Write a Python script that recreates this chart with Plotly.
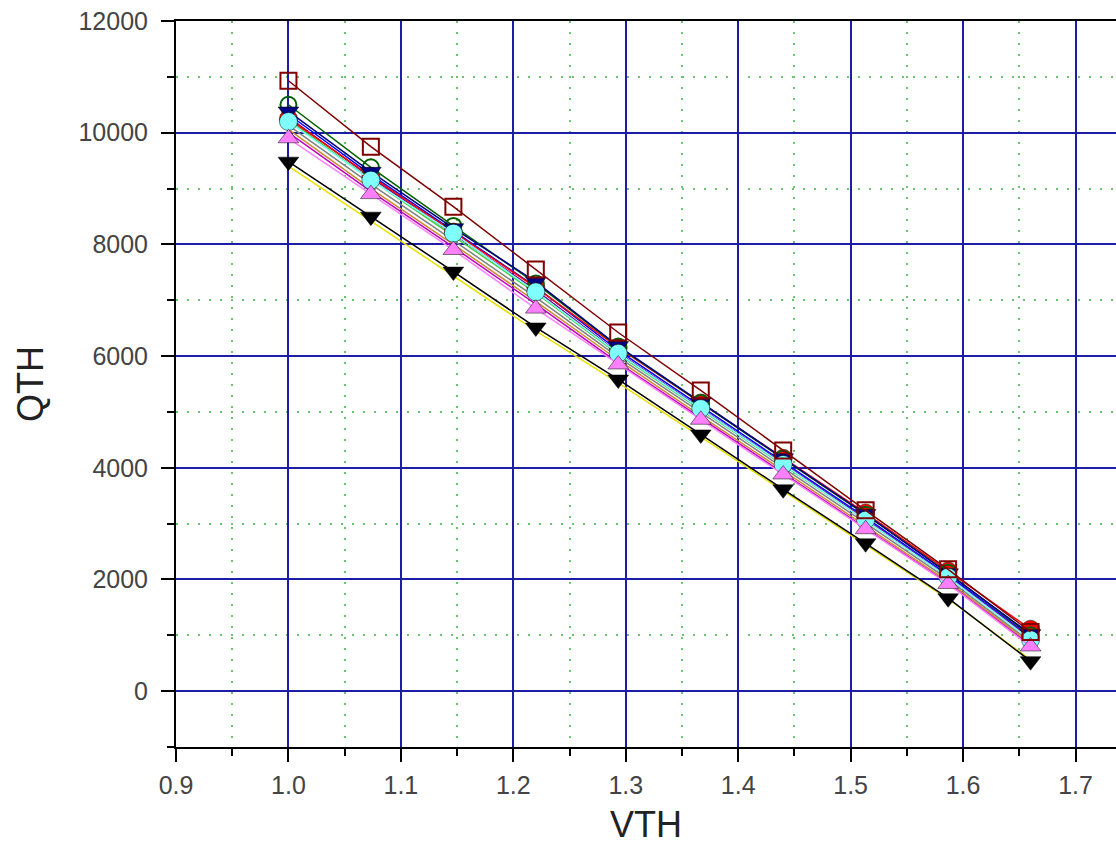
import plotly.graph_objects as go

# VTH sample points (shared by every curve)
vth = [1.0, 1.0733, 1.1467, 1.22, 1.2933, 1.3667, 1.44, 1.5133, 1.5867, 1.66]

# QTH curves, one list per run
q_brown = [10930, 9750, 8676, 7549, 6422, 5385, 4311, 3238, 2182, 1060]
q_red = [10250, 9220, 8220, 7230, 6150, 5160, 4170, 3190, 2150, 1109]
q_dkgreen = [10500, 9380, 8330, 7300, 6170, 5160, 4160, 3160, 2120, 1000]
q_navy = [10380, 9300, 8290, 7330, 6180, 5170, 4170, 3170, 2110, 1020]
q_blue = [10330, 9250, 8240, 7240, 6100, 5100, 4110, 3110, 2080, 980]
q_purple = [10280, 9200, 8190, 7180, 6060, 5070, 4080, 3080, 2050, 950]
q_green = [10230, 9160, 8150, 7130, 6030, 5040, 4060, 3060, 2040, 930]
q_cyan = [10200, 9150, 8200, 7150, 6050, 5060, 4060, 3060, 2040, 920]
q_gray = [10130, 9080, 8070, 7050, 5980, 4990, 4010, 3010, 2000, 880]
q_orange = [10060, 9000, 8000, 6980, 5930, 4930, 3950, 2960, 1960, 850]
q_magenta = [10000, 8950, 7950, 6930, 5880, 4890, 3910, 2920, 1930, 820]
q_pink = [9900, 8900, 7900, 6850, 5850, 4860, 3880, 2900, 1920, 800]
q_black = [9481, 8497, 7513, 6512, 5581, 4597, 3614, 2648, 1664, 537]
q_yellow = [9400, 8420, 7440, 6450, 5520, 4550, 3580, 2620, 1650, 560]

# (name, values, colour, marker symbol, filled marker?)
series = [
    ("run 14", q_yellow, "#e8e000", None, False),
    ("run 13", q_gray, "#808080", None, False),
    ("run 12", q_orange, "#d08a30", None, False),
    ("run 11", q_magenta, "#c000c0", None, False),
    ("run 10", q_green, "#40d040", None, False),
    ("run 9", q_purple, "#800080", None, False),
    ("run 8", q_blue, "#0000ff", None, False),
    ("run 7", q_red, "#ff0000", "circle", True),
    ("run 6", q_dkgreen, "#006000", "circle-open", False),
    ("run 5", q_navy, "#000080", "triangle-down", True),
    ("run 4", q_cyan, "#80ffff", "circle", True),
    ("run 3", q_pink, "#ff80ff", "triangle-up", True),
    ("run 2", q_black, "#000000", "triangle-down", True),
    ("run 1", q_brown, "#800000", "square-open", False),
]

fig = go.Figure()
for name, q, color, symbol, filled in series:
    if filled:
        marker = dict(size=18, color=color, line=dict(color="black", width=0.5))
    else:
        marker = dict(size=16, color=color, line=dict(color=color, width=2))
    if symbol is None:
        mode = "lines"
    else:
        mode = "lines+markers"
        marker["symbol"] = symbol
    fig.add_trace(go.Scatter(
        x=vth, y=q, name=name, mode=mode,
        line=dict(color=color, width=1.5),
        marker=marker,
    ))

tick_font = dict(family="Liberation Sans, Arial, sans-serif", size=25, color="#444444")
title_font = dict(family="Liberation Sans, Arial, sans-serif", size=36, color="#222222")
minor_grid = dict(showgrid=True, gridcolor="#6cc46c", griddash="2px,9px", gridwidth=1.5)

fig.update_layout(
    width=1116, height=857,
    margin=dict(l=176, r=0, t=21, b=110),
    paper_bgcolor="white", plot_bgcolor="white",
    showlegend=False,
    xaxis=dict(
        range=[0.9, 1.736], dtick=0.1, tick0=0.9, tickformat=".1f",
        showline=True, linecolor="black", linewidth=2, mirror=True,
        ticks="outside", ticklen=13, tickwidth=2, tickcolor="black",
        ticklabelstandoff=2, automargin=False,
        showgrid=True, gridcolor="#1c1ca8", gridwidth=2,
        zeroline=False, tickfont=tick_font,
        minor=dict(dtick=0.05, tick0=0.9, ticks="outside", ticklen=7, tickwidth=2, tickcolor="black",
                   **minor_grid),
        title=dict(text="VTH", font=title_font, standoff=14),
    ),
    yaxis=dict(
        range=[-1000, 12000], dtick=2000, tick0=0, tickformat="d",
        showline=True, linecolor="black", linewidth=2, mirror=False,
        ticks="outside", ticklen=13, tickwidth=2, tickcolor="black",
        ticklabelstandoff=8, automargin=False,
        showgrid=True, gridcolor="#1c1ca8", gridwidth=2,
        zeroline=False, tickfont=tick_font,
        minor=dict(dtick=1000, tick0=0, ticks="outside", ticklen=7, tickwidth=2, tickcolor="black",
                   **minor_grid),
        title=dict(text="QTH", font=title_font, standoff=24),
    ),
)

fig.write_html("out.html")
